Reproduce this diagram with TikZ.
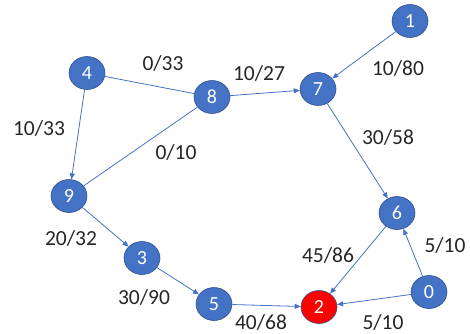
\documentclass[tikz,border=0pt]{standalone}
\usepackage{fontspec}
\setmainfont{Carlito}
\usetikzlibrary{shapes.geometric,arrows.meta}
\definecolor{nodeblue}{HTML}{4472C4}
\definecolor{nodeedge}{HTML}{2F528F}
\definecolor{edgeblue}{HTML}{4472C4}
\definecolor{labelgray}{HTML}{262626}
\tikzset{
  vtx/.style={ellipse, fill=nodeblue, draw=nodeedge, line width=0.6pt, minimum width=36pt, minimum height=33pt, inner sep=0pt, text=white, font=\fontsize{20}{20}\selectfont},
  redvtx/.style={vtx, fill=red, draw=nodeedge},
  conn/.style={draw=edgeblue, line width=0.8pt},
  arr/.style={conn, -{Triangle[length=6pt,width=5pt]}},
  lbl/.style={text=labelgray, font=\fontsize{21.5}{21.5}\selectfont, inner sep=0pt}
}
\begin{document}
\begin{tikzpicture}[x=1pt,y=-1pt]
\useasboundingbox (0,0) rectangle (470,333);
\node[vtx] (n1) at (410,21) {1};
\node[vtx] (n7) at (318,89) {7};
\node[vtx] (n4) at (87,73) {4};
\node[vtx] (n8) at (212,97) {8};
\node[vtx] (n9) at (69,196) {9};
\node[vtx] (n3) at (142,258) {3};
\node[vtx] (n5) at (214,304) {5};
\node[vtx] (n6) at (397,213) {6};
\node[vtx] (n0) at (429,292) {0};
\node[redvtx] (n2) at (319,307) {2};

\draw[conn] (n4) -- (n8);
\draw[conn] (n9) -- (n8);
\draw[arr] (n8) -- (n7);
\draw[arr] (n1) -- (n7);
\draw[arr] (n7) -- (n6);
\draw[arr] (n4) -- (n9);
\draw[arr] (n9) -- (n3);
\draw[arr] (n3) -- (n5);
\draw[arr] (n5) -- (n2);
\draw[arr] (n6) -- (n2);
\draw[arr] (n0) -- (n2);
\draw[arr] (n0) -- (n6);

\node[lbl] (l48) at (163,63) {0/33};
\node[lbl] (l87) at (259,73) {10/27};
\node[lbl] (l17) at (398,68) {10/80};
\node[lbl] (l49) at (39,128) {10/33};
\node[lbl] (l98) at (176,152) {0/10};
\node[lbl] (l76) at (388,137) {30/58};
\node[lbl] (l93) at (71,238) {20/32};
\node[lbl] (l35) at (144,297) {30/90};
\node[lbl] (l52) at (261,322) {40/68};
\node[lbl] (l62) at (328,255) {45/86};
\node[lbl] (l06) at (445,245) {5/10};
\node[lbl] (l02) at (383,322) {5/10};
\end{tikzpicture}
\end{document}
